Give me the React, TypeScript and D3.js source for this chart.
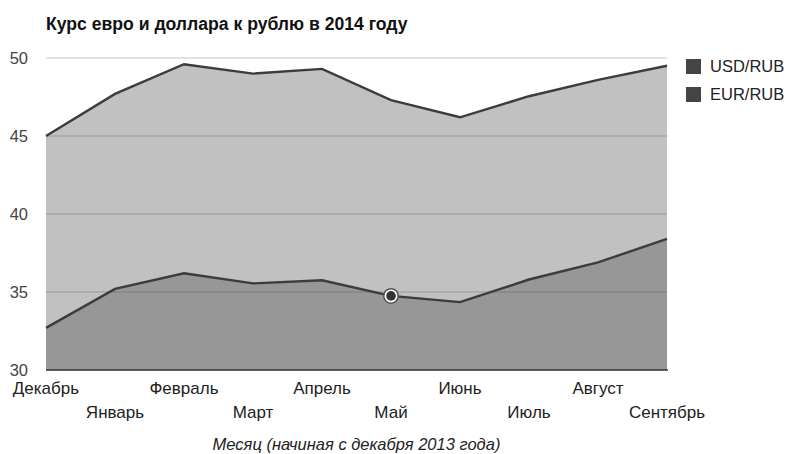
import React from "react";
import * as d3 from "d3";

const months = ["Декабрь", "Январь", "Февраль", "Март", "Апрель", "Май", "Июнь", "Июль", "Август", "Сентябрь"];
const eurRub = [45.0, 47.7, 49.6, 49.0, 49.3, 47.3, 46.2, 47.55, 48.6, 49.5];
const usdRub = [32.7, 35.2, 36.2, 35.55, 35.75, 34.75, 34.35, 35.8, 36.9, 38.4];
const yTicks = [30, 35, 40, 45, 50];
const legendItems = ["USD/RUB", "EUR/RUB"];
const highlightIndex = 5;

const W = 790;
const H = 454;
const plot = { left: 46, right: 667, top: 58, bottom: 370 };
const font = "'Liberation Sans', Arial, sans-serif";

export default function App() {
  const x = d3.scalePoint<string>().domain(months).range([plot.left, plot.right]);
  const y = d3.scaleLinear().domain([30, 50]).range([plot.bottom, plot.top]);

  const area = d3
    .area<number>()
    .x((_, i) => x(months[i])!)
    .y0(y(30))
    .y1((d) => y(d));
  const line = d3
    .line<number>()
    .x((_, i) => x(months[i])!)
    .y((d) => y(d));

  const hx = x(months[highlightIndex])!;
  const hy = y(usdRub[highlightIndex]);

  return (
    <svg width={W} height={H} style={{ position: "absolute", left: 0, top: 0, background: "#fff" }}>
      <text x={46} y={30} fontFamily={font} fontSize={17.6} fontWeight="bold" fill="#111">
        Курс евро и доллара к рублю в 2014 году
      </text>

      {yTicks.map((t) => (
        <g key={t}>
          {t !== 30 && (
            <line x1={plot.left} x2={plot.right} y1={y(t)} y2={y(t)} stroke="#c4c4c4" strokeWidth={1} />
          )}
          <text
            x={28}
            y={y(t)}
            dy="0.36em"
            textAnchor="end"
            fontFamily={font}
            fontSize={16.5}
            fill="#444"
          >
            {t}
          </text>
        </g>
      ))}

      <path d={area(eurRub)!} fill="#444" fillOpacity={0.33} />
      <path d={area(usdRub)!} fill="#444" fillOpacity={0.33} />
      <path d={line(eurRub)!} fill="none" stroke="#3c3c3c" strokeWidth={2.4} />
      <path d={line(usdRub)!} fill="none" stroke="#3c3c3c" strokeWidth={2.4} />

      <line x1={plot.left} x2={plot.right + 1} y1={y(30)} y2={y(30)} stroke="#333" strokeWidth={1.5} />

      <circle cx={hx} cy={hy} r={8} fill="#555" />
      <circle cx={hx} cy={hy} r={6.5} fill="#fff" />
      <circle cx={hx} cy={hy} r={4.8} fill="#333" />

      {months.map((m, i) => (
        <text
          key={m}
          x={x(m)!}
          y={i % 2 === 0 ? 394 : 418}
          textAnchor="middle"
          fontFamily={font}
          fontSize={17}
          fill="#222"
        >
          {m}
        </text>
      ))}

      <text
        x={(plot.left + plot.right) / 2}
        y={450}
        textAnchor="middle"
        fontFamily={font}
        fontSize={16.5}
        fontStyle="italic"
        fill="#222"
      >
        Месяц (начиная с декабря 2013 года)
      </text>

      {legendItems.map((s, i) => (
        <g key={s} transform={`translate(686, ${59 + i * 28})`}>
          <rect width={15} height={15} fill="#444" />
          <text x={24} y={7.5} dy="0.36em" fontFamily={font} fontSize={16.5} fill="#222">
            {s}
          </text>
        </g>
      ))}
    </svg>
  );
}
